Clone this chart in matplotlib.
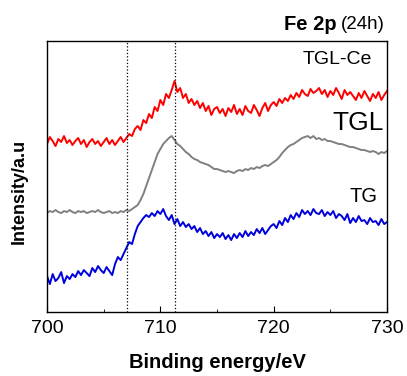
import numpy as np
import matplotlib
matplotlib.use("Agg")
import matplotlib.pyplot as plt
from matplotlib.ticker import MultipleLocator

plt.rcParams['font.family'] = ['Liberation Sans', 'DejaVu Sans']

# binding energy grid, 0.25 eV steps
energy = np.arange(700, 730.001, 0.25)

# intensities (arbitrary units, offset stacked)
tgl_ce = [168, 175, 171, 166, 173, 170, 176, 169, 172, 167, 171, 174,
          168, 172, 165, 170, 173, 168, 171, 166, 170, 174, 168, 172,
          167, 171, 175, 170, 174, 178, 176, 183, 186, 182, 192, 189,
          198, 194, 205, 201, 212, 207, 218, 214, 222, 231, 220, 224,
          214, 218, 209, 213, 207, 211, 204, 209, 201, 206, 197, 203,
          205, 199, 203, 196, 204, 200, 207, 198, 203, 197, 206, 201,
          199, 207, 202, 196, 204, 209, 201, 207, 210, 206, 213, 209,
          214, 211, 217, 213, 219, 215, 222, 218, 216, 223, 219, 221,
          224, 218, 222, 215, 221, 217, 224, 219, 213, 222, 217, 220,
          216, 212, 219, 214, 221, 216, 211, 218, 214, 220, 212, 217,
          221]
tgl = [99, 101, 100, 102, 100, 99, 101, 100, 102, 100, 99, 101,
       100, 101, 99, 100, 101, 100, 102, 100, 99, 100, 101, 99,
       100, 99, 101, 100, 102, 101, 103, 105, 107, 112, 118, 126,
       134, 142, 150, 158, 163, 168, 171, 174, 176, 172, 168, 166,
       163, 160, 158, 155, 153, 152, 150, 149, 148, 147, 145, 143,
       143, 142, 141, 140, 141, 140, 139, 141, 142, 141, 143, 142,
       144, 143, 145, 144, 146, 147, 146, 148, 150, 152, 155, 159,
       162, 165, 167, 168, 170, 172, 174, 175, 176, 174, 176, 173,
       174, 172, 173, 171, 171, 170, 169, 168, 168, 167, 166, 165,
       165, 164, 163, 162, 162, 161, 160, 161, 160, 158, 160, 159,
       161]
tg = [36, 28, 38, 31, 34, 40, 29, 36, 33, 38, 35, 41,
      37, 42, 39, 36, 44, 40, 46, 42, 39, 45, 41, 37,
      48, 55, 52, 58, 64, 70, 68, 78, 86, 90, 94, 97,
      95, 99, 96, 101, 98, 103, 96, 92, 97, 88, 93, 86,
      90, 85, 88, 83, 86, 80, 84, 78, 81, 76, 80, 74,
      78, 75, 79, 73, 77, 72, 78, 74, 79, 75, 81, 76,
      80, 77, 83, 79, 84, 78, 82, 86, 88, 84, 91, 87,
      94, 90, 97, 93, 99, 95, 102, 98, 101, 97, 103, 99,
      98, 102, 96, 100, 97, 101, 94, 98, 96, 92, 98, 89,
      94, 90, 96, 91, 92, 88, 94, 90, 91, 87, 93, 88,
      90]

ref_lines = [707.1, 711.3]

fig = plt.figure(figsize=(4.07, 3.76), dpi=100)
ax = fig.add_axes([0.1155, 0.170, 0.8355, 0.721])

ax.plot(energy, tgl_ce, color='#ff0000', lw=1.4)
ax.plot(energy, tgl, color='#808080', lw=1.4)
ax.plot(energy, tg, color='#0000dd', lw=1.4)
for xv in ref_lines:
    ax.axvline(xv, color='black', ls=':', lw=0.9)

ax.text(725.6, 252, 'TGL-Ce', fontsize=14, ha='center', va='center')
ax.text(727.4, 189, 'TGL', fontsize=19, ha='center', va='center')
ax.text(727.9, 116, 'TG', fontsize=14.5, ha='center', va='center')

ax.set_xlim(700, 730)
ax.set_ylim(0, 271)
ax.set_yticks([])
ax.xaxis.set_major_locator(MultipleLocator(10))
ax.xaxis.set_minor_locator(MultipleLocator(5))
ax.tick_params(axis='x', which='both', direction='in', labelsize=14, pad=6)
ax.tick_params(axis='x', which='major', length=4)
ax.tick_params(axis='x', which='minor', length=2.5)
ax.set_xlabel('Binding energy/eV', fontsize=14.5, fontweight='bold')
ax.xaxis.set_label_coords(0.5, -0.15)
ax.set_ylabel('Intensity/a.u', fontsize=13, fontweight='bold')
ax.yaxis.set_label_coords(-0.056, 0.446)
for s in ax.spines.values():
    s.set_linewidth(1.0)

# title: bold "Fe 2p" followed by "(24h)", right edge near the frame
t2 = fig.text(0.946, 0.936, '(24h)', fontsize=13.5, ha='right', va='center')
fig.canvas.draw()
x0 = t2.get_window_extent().x0 / fig.bbox.width
fig.text(x0 - 0.012, 0.936, 'Fe 2p', fontsize=14.5, fontweight='bold', ha='right', va='center')

fig.savefig('out.png', dpi=100)
